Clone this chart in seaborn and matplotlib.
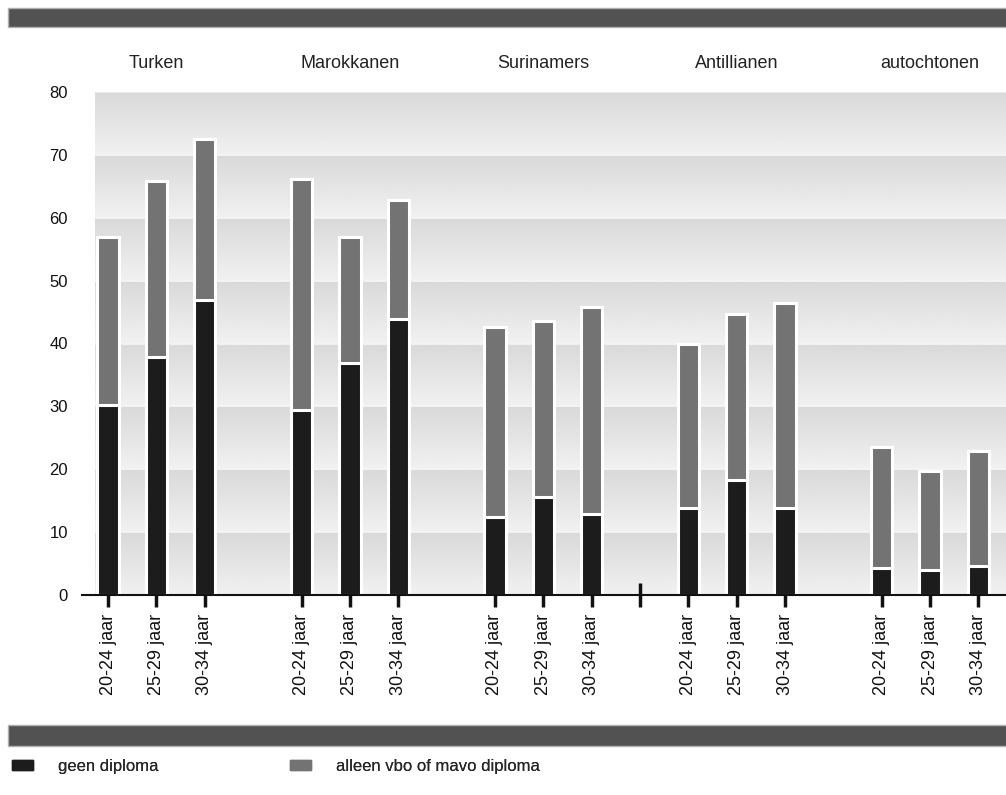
import numpy as np
import pandas as pd
import matplotlib.pyplot as plt
import matplotlib.patches as mpatches
import seaborn as sns

# Groepen en leeftijdsklassen
groepen = ["Turken", "Marokkanen", "Surinamers", "Antillianen", "autochtonen"]
leeftijden = ["20-24 jaar", "25-29 jaar", "30-34 jaar"]

# Percentages per groep (20-24, 25-29, 30-34)
geen_diploma = [30.2, 37.8, 46.9,
                29.4, 36.9, 43.9,
                12.4, 15.6, 12.9,
                13.8, 18.3, 13.8,
                4.3, 4.0, 4.6]
totaal = [56.9, 65.8, 72.5,
          66.1, 56.9, 62.8,
          42.6, 43.6, 45.8,
          39.9, 44.7, 46.4,
          23.5, 19.7, 22.9]

# positie van de staven: 3 per groep, 1 lege plek ertussen
posities = [0, 1, 2, 4, 5, 6, 8, 9, 10, 12, 13, 14, 16, 17, 18]
tick_posities = posities + [11]
tick_labels = leeftijden * 5 + [""]

df = pd.DataFrame({
    "pos": posities,
    "geen": geen_diploma,
    "totaal": totaal,
})

sns.set_style("white")
plt.rcParams["font.family"] = ["Liberation Sans", "DejaVu Sans"]

fig = plt.figure(figsize=(10.06, 7.95), dpi=100)
ax = fig.add_axes([82 / 1006, 1 - 595 / 795, 1 - 82 / 1006, (595 - 92) / 795])

x0, x1 = -0.27, 18.6
# achtergrond met verloop per band van 10
yy = np.linspace(0, 80, 800)
frac = (yy % 10) / 10
grijs = 0.945 - frac * (0.945 - 0.85)
bg = np.repeat(grijs[:, None], 2, axis=1)
ax.imshow(bg, cmap="gray", vmin=0, vmax=1, aspect="auto", origin="lower",
          extent=(x0, x1, 0, 80), zorder=0, interpolation="bilinear")
for y in range(10, 80, 10):
    ax.plot([x0, x1], [y, y], color="#f6f6f6", lw=1.2, zorder=0.5)

sns.barplot(data=df, x="pos", y="totaal", native_scale=True, width=0.44,
            color="#737373", edgecolor="white", linewidth=2.2,
            saturation=1, ax=ax, zorder=2)
sns.barplot(data=df, x="pos", y="geen", native_scale=True, width=0.44,
            color="#1c1c1c", edgecolor="white", linewidth=2.2,
            saturation=1, ax=ax, zorder=3)

ax.set_xlim(-0.54, 18.57)
ax.set_ylim(0, 80)
ax.set_xlabel("")
ax.set_ylabel("")
ax.set_yticks(range(0, 90, 10))
ax.tick_params(axis="y", left=False, length=0, pad=10, labelsize=12,
               labelcolor="#111111")
ax.set_xticks(tick_posities)
ax.set_xticklabels(tick_labels, rotation=90, fontsize=13)
ax.tick_params(axis="x", bottom=True, direction="inout", length=17, width=2.5,
               color="#111111", pad=5, labelcolor="#111111")
for s in ["top", "right", "left"]:
    ax.spines[s].set_visible(False)
ax.spines["bottom"].set_color("#111111")
ax.spines["bottom"].set_linewidth(1.5)
ax.spines["bottom"].set_zorder(4)

for i, g in enumerate(groepen):
    ax.text(posities[i * 3 + 1], 83.2, g, ha="center", va="bottom",
            fontsize=13, color="#222222")

# donkere balken boven en onder
for y0, h in [(8, 19), (725, 21)]:
    fig.patches.append(mpatches.Rectangle(
        (8 / 1006, 1 - (y0 + h) / 795), 1, h / 795, transform=fig.transFigure,
        facecolor="#525252", edgecolor="#b0b0b0", lw=1))

# legenda
items = [("#1c1c1c", "geen diploma", 12),
         ("#737373", "alleen vbo of mavo diploma", 290)]
for kleur, label, xpix in items:
    leg = fig.legend(handles=[mpatches.Patch(color=kleur, label=label)],
                     loc="center left", bbox_to_anchor=(xpix / 1006, 1 - 766 / 795),
                     frameon=False, fontsize=12, handlelength=1.25,
                     handleheight=0.55, handletextpad=1.5,
                     borderpad=0, borderaxespad=0)
    fig.add_artist(leg)

fig.savefig("out.png", dpi=100)
